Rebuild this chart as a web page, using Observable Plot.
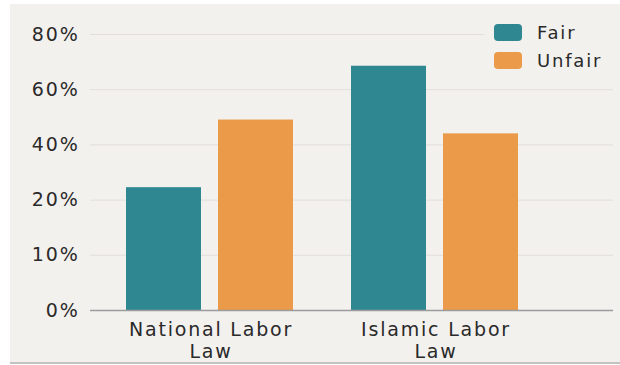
<!DOCTYPE html>
<html>
<head>
<meta charset="utf-8">
<script src="https://cdn.jsdelivr.net/npm/d3@7"></script>
<script src="https://cdn.jsdelivr.net/npm/@observablehq/plot@0.6"></script>
<style>
  html, body { margin: 0; padding: 0; background: #ffffff; }
  #wrap { position: relative; width: 620px; height: 365px; overflow: hidden; font-family: "DejaVu Sans", sans-serif; }
  #bg { position: absolute; left: 10px; top: 4px; width: 610px; height: 358px; background: #f3f1ee; border-bottom: 2px solid #c4c2c0; }
  #chart { position: absolute; left: 0; top: 0; }
  #chart svg { background: transparent !important; }
  #chart svg text { letter-spacing: 1.8px; }
  #legend { position: absolute; left: 484px; top: 18px; width: 129px; height: 58px; background: #f3f1ee; }
  .item { position: absolute; left: 10px; display: flex; align-items: center; font-size: 18px; letter-spacing: 1.8px; color: #2a2a2a; }
  .sw { width: 28px; height: 17px; border-radius: 4px; margin-right: 15px; }
</style>
</head>
<body>
<div id="wrap">
  <div id="bg"></div>
  <div id="chart"></div>
  <div id="legend"></div>
</div>
<script>
const laws = ["National Labor Law", "Islamic Labor Law"];
const lawLabels = ["National Labor\nLaw", "Islamic Labor\nLaw"];
const seriesNames = ["Fair", "Unfair"];
const fairValues = [24.5, 68.5];
const unfairValues = [49, 44];
const yTicks = [0, 10, 20, 40, 60, 80];
const colors = ["#2e8791", "#ea9a48"];

const rows = [];
laws.forEach((law, i) => {
  rows.push({law, series: "Fair", value: fairValues[i]});
  rows.push({law, series: "Unfair", value: unfairValues[i]});
});

const labelOf = new Map(laws.map((l, i) => [l, lawLabels[i]]));

const chart = Plot.plot({
  width: 620,
  height: 365,
  marginTop: 34,
  marginBottom: 55,
  marginLeft: 90,
  marginRight: 7,
  style: { background: "transparent", fontFamily: "DejaVu Sans, sans-serif", color: "#2a2a2a" },
  x: { domain: laws, insetLeft: 35, insetRight: 95, paddingInner: 0.26, paddingOuter: 0, label: null },
  y: { type: "linear", domain: yTicks, label: null },
  color: { domain: seriesNames, range: colors },
  marks: [
    Plot.gridY(yTicks.filter(d => d > 0), { stroke: "#e2dfdb", strokeOpacity: 1, strokeWidth: 1 }),
    Plot.barY(rows.filter(d => d.series === "Fair"), { x: "law", y: "value", fill: "series", insetRight: 92 }),
    Plot.barY(rows.filter(d => d.series === "Unfair"), { x: "law", y: "value", fill: "series", insetLeft: 92 }),
    Plot.ruleY([0], { stroke: "#9c9c9c", strokeWidth: 1.5 }),
    Plot.axisY(yTicks, { tickSize: 0, tickPadding: 11, tickFormat: d => d + "%", fontSize: 19, label: null, fill: "#2a2a2a" }),
    Plot.axisX({ tickSize: 0, tickPadding: 10, tickFormat: d => labelOf.get(d), fontSize: 19, lineHeight: 1.16, dx: 1, label: null, fill: "#2a2a2a" })
  ]
});
document.getElementById("chart").appendChild(chart);

const legend = document.getElementById("legend");
seriesNames.forEach((name, i) => {
  const item = document.createElement("div");
  item.className = "item";
  item.style.top = (4 + i * 28) + "px";
  const sw = document.createElement("div");
  sw.className = "sw";
  sw.style.background = colors[i];
  const t = document.createElement("span");
  t.textContent = name;
  item.appendChild(sw);
  item.appendChild(t);
  legend.appendChild(item);
});
</script>
</body>
</html>
